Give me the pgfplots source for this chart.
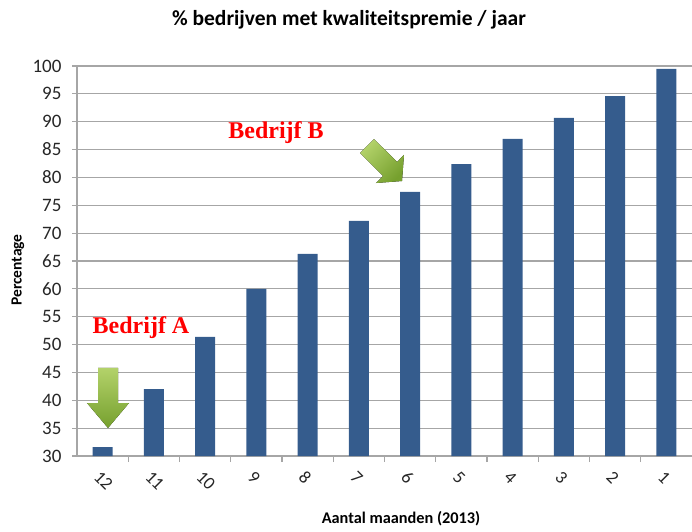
\documentclass[border=0pt]{standalone}
\usepackage{pgfplots}
\pgfplotsset{compat=1.18}
\usepackage{fontspec}
\setmainfont{Carlito}
\newfontfamily\serifb{Liberation Serif}
\definecolor{barblue}{HTML}{355C8D}
\definecolor{gridgray}{HTML}{A6A6A6}
\definecolor{lbl}{HTML}{262626}
\definecolor{arrlight}{HTML}{B3D26A}
\definecolor{arrdark}{HTML}{76A02E}
\begin{document}
\begin{tikzpicture}[x=1pt,y=1pt]
\useasboundingbox (0,0) rectangle (692,531);
\begin{axis}[
  at={(77pt,75pt)}, anchor=south west,
  scale only axis, width=615pt, height=390pt,
  xmin=-0.5, xmax=11.5, ymin=30, ymax=100,
  ytick={30,35,...,100},
  xtick={0,...,11},
  xticklabels={12,11,10,9,8,7,6,5,4,3,2,1},
  /pgf/number format/assume math mode=true,
  ymajorgrids,
  grid style={gridgray, line width=1.2pt},
  axis x line*=bottom, axis y line*=left,
  axis line style={gridgray, line width=1.2pt, -},
  tick align=outside,
  major tick length=5pt,
  minor tick length=6pt,
  every major x tick/.append style={draw=none},
  minor x tick num=1,
  every minor x tick/.append style={gridgray, line width=1.2pt},
  every major y tick/.append style={gridgray, line width=1.2pt},
  yticklabel style={font=\fontsize{19}{19}\selectfont, text=lbl, xshift=-7pt},
  xticklabel style={font=\fontsize{18}{18}\selectfont, text=lbl, rotate=-45, anchor=north west, xshift=2pt, yshift=-4pt},
]
\addplot[ybar, bar width=20pt, fill=barblue, draw=none] coordinates {
(0,31.6) (1,42.0) (2,51.4) (3,60.0) (4,66.3) (5,72.2)
(6,77.4) (7,82.4) (8,86.9) (9,90.7) (10,94.6) (11,99.5)};
\fill[top color=arrlight, bottom color=arrdark]
 (axis cs:-0.090,45.80) -- (axis cs:0.300,45.80) -- (axis cs:0.300,39.51) -- (axis cs:0.515,39.51)
 -- (axis cs:0.105,35.03) -- (axis cs:-0.305,39.51) -- (axis cs:-0.090,39.51) -- cycle;
\fill[top color=arrlight, bottom color=arrdark, shading angle=45]
 (axis cs:5.022,84.385) -- (axis cs:5.295,86.898) -- (axis cs:5.744,82.77) -- (axis cs:5.880,84.03)
 -- (axis cs:5.841,79.36) -- (axis cs:5.334,79.00) -- (axis cs:5.471,80.26) -- cycle;
\node[text=red, font=\serifb\bfseries\fontsize{24}{24}\selectfont] at (axis cs:0.749,52.97) {Bedrijf A};
\node[text=red, font=\serifb\bfseries\fontsize{24}{24}\selectfont] at (axis cs:3.383,87.97) {Bedrijf B};
\end{axis}
\node[font=\bfseries\fontsize{21.5}{21.5}\selectfont] at (349,511) {\% bedrijven met kwaliteitspremie / jaar};
\node[rotate=90, font=\bfseries\fontsize{15.5}{15.5}\selectfont] at (18,261) {Percentage};
\node[font=\bfseries\fontsize{16.3}{16.3}\selectfont] at (401,12) {Aantal maanden (2013)};
\end{tikzpicture}
\end{document}
